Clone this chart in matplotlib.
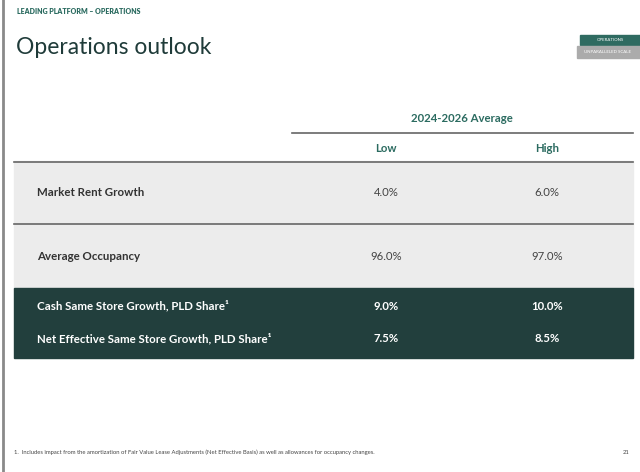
import matplotlib.pyplot as plt
from matplotlib.patches import Rectangle

plt.rcParams['font.family'] = ['Lato', 'DejaVu Sans']

W = 640
H = 472

TEAL = '#2b6b60'
DARK = '#223f3d'
GREY_BG = '#ececec'

header = '2024-2026 Average'
columns = ['Low', 'High']
rows = ['Market Rent Growth', 'Average Occupancy',
        'Cash Same Store Growth, PLD Share\u00b9',
        'Net Effective Same Store Growth, PLD Share\u00b9']
low = [4.0, 96.0, 9.0, 7.5]
high = [6.0, 97.0, 10.0, 8.5]
footnote = ('1.  Includes impact from the amortization of Fair Value Lease Adjustments '
            '(Net Effective Basis) as well as allowances for occupancy changes.')

fig = plt.figure(figsize=(W / 100, H / 100), dpi=100)
ax = fig.add_axes([0, 0, 1, 1])
ax.set_xlim(0, W)
ax.set_ylim(H, 0)
ax.axis('off')

# page edge
ax.plot([2.5, 2.5], [0, H], color='#8a8a8a', lw=2)

# top headings
ax.text(17, 12, 'LEADING PLATFORM \u2013 OPERATIONS', fontsize=5, fontweight='heavy',
        color=TEAL, va='center')
ax.text(16, 47, 'Operations outlook', fontsize=16.5, color='#1f3b39', va='center')

# tabs top right
ax.add_patch(Rectangle((580, 35), 60, 10, color='#2f6b61'))
ax.text(610, 40, 'OPERATIONS', fontsize=3.2, color='white', ha='center', va='center')
ax.add_patch(Rectangle((577, 46), 63, 12, color='#ababab'))
ax.text(608, 52, 'UNPARALLELED SCALE', fontsize=3.2, color='white', ha='center', va='center')

# column header
col_x = [386, 547]
ax.text(462, 119, header, fontsize=8.2, fontweight='bold', color=TEAL, ha='center', va='center')
ax.plot([292, 633], [133, 133], color='#666666', lw=1.2)
for x, c in zip(col_x, columns):
    ax.text(x, 148, c, fontsize=8.2, fontweight='bold', color=TEAL, ha='center', va='center')

# table bands
ax.add_patch(Rectangle((14, 161), 619, 128, color=GREY_BG, zorder=0))
ax.add_patch(Rectangle((14, 288), 619, 70, color=DARK, zorder=1))
ax.plot([14, 633], [161.5, 161.5], color='#666666', lw=1.2)
ax.plot([14, 633], [223.5, 223.5], color='#666666', lw=1.2)

row_y = [193, 257, 306, 339]
for i, (lab, lo, hi, y) in enumerate(zip(rows, low, high, row_y)):
    dark = i >= 2
    tc = 'white' if dark else '#333333'
    vc = 'white' if dark else '#444444'
    ax.text(37, y, lab, fontsize=8.3, fontweight='bold', color=tc, va='center', zorder=2)
    ax.text(col_x[0], y, f'{lo:.1f}%', fontsize=8.2, color=vc, ha='center', va='center',
            fontweight='bold' if dark else 'normal', zorder=2)
    ax.text(col_x[1], y, f'{hi:.1f}%', fontsize=8.2, color=vc, ha='center', va='center',
            fontweight='bold' if dark else 'normal', zorder=2)

# footnote
ax.text(14, 452, footnote, fontsize=4.2, color='#444444', va='center')
ax.text(629, 452, '21', fontsize=4.2, color='#444444', ha='right', va='center')

fig.savefig('out.png', dpi=100)
